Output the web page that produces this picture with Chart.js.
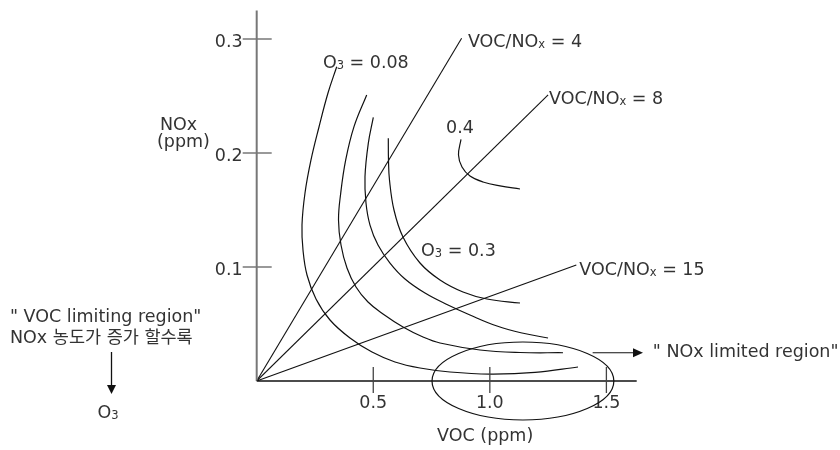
<!DOCTYPE html>
<html>
<head>
<meta charset="utf-8">
<script src="https://cdn.jsdelivr.net/npm/chart.js@4.4.1/dist/chart.umd.min.js"></script>
<style>
  html, body { margin: 0; padding: 0; background: #fff; }
  #wrap { width: 840px; height: 450px; }
</style>
</head>
<body>
<div id="wrap"><canvas id="chart" width="840" height="450"></canvas></div>
<script>
// 1. DATA
const xTicks = [0.5, 1.0, 1.5];
const xTickLabels = ['0.5', '1.0', '1.5'];
const yTicks = [0.1, 0.2, 0.3];
const yTickLabels = ['0.1', '0.2', '0.3'];
const xAxisMax = 1.63;   // VOC (ppm)
const yAxisMax = 0.325;  // NOx (ppm)

// VOC/NOx ratio lines: from origin to end point
const ratioLabels = ['4', '8', '15'];
const ratioVoc = [0.879, 1.25, 1.371];
const ratioNox = [0.3006, 0.251, 0.1018];

// O3 isopleths, [VOC, NOx]
const iso008 = [[0.3432, 0.2757], [0.3058, 0.2526], [0.2672, 0.2228], [0.2329, 0.1939], [0.2072, 0.1649],
  [0.1943, 0.1368], [0.1986, 0.1149], [0.2158, 0.0930], [0.2544, 0.0719], [0.3144, 0.0535],
  [0.4002, 0.0377], [0.4946, 0.0254], [0.5932, 0.0167], [0.7005, 0.0114], [0.8292, 0.0079],
  [1.0008, 0.0061], [1.1938, 0.0075], [1.3783, 0.0123]];
const isoB = [[0.4718, 0.2509], [0.4174, 0.2231], [0.3818, 0.1939], [0.3603, 0.1646], [0.3509, 0.1412],
  [0.3616, 0.1193], [0.3873, 0.0991], [0.4259, 0.0825], [0.4774, 0.0693], [0.5418, 0.0588],
  [0.6276, 0.0474], [0.7134, 0.0386], [0.7863, 0.0333], [0.9579, 0.0272], [1.1295, 0.0250],
  [1.3140, 0.0248]];
const isoC = [[0.5002, 0.2313], [0.4787, 0.2085], [0.4645, 0.1792], [0.4688, 0.1561], [0.4860, 0.1368],
  [0.5203, 0.1193], [0.5718, 0.1035], [0.6361, 0.0895], [0.7219, 0.0772], [0.8206, 0.0667],
  [0.9149, 0.0579], [1.0308, 0.0482], [1.1380, 0.0421], [1.2496, 0.0377]];
const iso03 = [[0.5645, 0.2129], [0.5653, 0.1939], [0.5696, 0.1763], [0.5889, 0.1500], [0.6275, 0.1263],
  [0.7005, 0.1035], [0.7863, 0.0886], [0.8849, 0.0781], [0.9879, 0.0719], [1.1294, 0.0684]];
const iso04 = [[0.8763, 0.2120], [0.8656, 0.1982], [0.8806, 0.1877], [0.9149, 0.1798], [0.9707, 0.1746],
  [1.0436, 0.1711], [1.1294, 0.1684]];

// "NOx limited region" ellipse (centre, radii in axis units)
const ellipseVoc = [1.142, 0.390];
const ellipseNox = [0.0, 0.0342];

// 2. STYLE
const FONT = '"DejaVu Sans", "Noto Sans CJK KR", sans-serif';
const FS = 17.5;
const SUB = 11.5;
const TXT = '#333';

function toPts(arr) { return arr.map(p => ({ x: p[0], y: p[1] })); }

function curveSet(arr) {
  return {
    data: toPts(arr), showLine: true, borderColor: '#111', borderWidth: 1.2,
    pointRadius: 0, tension: 0.4, fill: false
  };
}

const datasets = [iso008, isoB, isoC, iso03, iso04].map(curveSet);
ratioLabels.forEach((r, i) => {
  datasets.push({
    data: [{ x: 0, y: 0 }, { x: ratioVoc[i], y: ratioNox[i] }], showLine: true,
    borderColor: '#111', borderWidth: 1.1, pointRadius: 0, tension: 0, fill: false
  });
});

// text with small subscript parts: [text, isSub]
function drawParts(ctx, px, py, parts, align) {
  let w = 0;
  parts.forEach(p => { ctx.font = `${p[1] ? SUB : FS}px ${FONT}`; w += ctx.measureText(p[0]).width; });
  let cx = align === 'center' ? px - w / 2 : align === 'right' ? px - w : px;
  ctx.textAlign = 'left';
  ctx.textBaseline = 'alphabetic';
  parts.forEach(p => {
    ctx.font = `${p[1] ? SUB : FS}px ${FONT}`;
    ctx.fillText(p[0], cx, py + (p[1] ? 1 : 0));
    cx += ctx.measureText(p[0]).width;
  });
}

function seg(ctx, a, b, c, d) { ctx.beginPath(); ctx.moveTo(a, b); ctx.lineTo(c, d); ctx.stroke(); }

// 3. OVERLAY: axes, ticks, notes
const overlay = {
  id: 'overlay',
  afterDatasetsDraw(chart) {
    const { ctx, scales: { x, y } } = chart;
    const x0 = x.getPixelForValue(0), y0 = y.getPixelForValue(0);
    ctx.save();

    // axes
    ctx.strokeStyle = '#777'; ctx.lineWidth = 2;
    seg(ctx, x0, y0, x0, y.getPixelForValue(yAxisMax));
    ctx.strokeStyle = '#111'; ctx.lineWidth = 1.5;
    seg(ctx, x0, y0, x.getPixelForValue(xAxisMax), y0);

    // ticks + labels
    ctx.fillStyle = TXT;
    yTicks.forEach((v, i) => {
      const py = y.getPixelForValue(v);
      ctx.strokeStyle = '#777'; ctx.lineWidth = 1.5;
      seg(ctx, x0 - 14, py, x0 + 15, py);
      drawParts(ctx, x0 - 14, py + 7.5, [[yTickLabels[i], false]], 'right');
    });
    xTicks.forEach((v, i) => {
      const px = x.getPixelForValue(v);
      ctx.strokeStyle = '#444'; ctx.lineWidth = 1.3;
      seg(ctx, px, y0 - 14, px, y0 + 12);
      drawParts(ctx, px, y0 + 27, [[xTickLabels[i], false]], 'center');
    });

    // axis titles
    drawParts(ctx, x.getPixelForValue(0.98), y0 + 60, [['VOC (ppm)', false]], 'center');
    drawParts(ctx, 160, 130, [['NOx', false]], 'left');
    drawParts(ctx, 157, 147, [['(ppm)', false]], 'left');

    // isopleth and ratio labels
    const lab = (vx, vy, parts) => drawParts(ctx, x.getPixelForValue(vx), y.getPixelForValue(vy), parts, 'left');
    lab(0.284, 0.2746, [['O', false], ['3', true], [' = 0.08', false]]);
    lab(0.705, 0.1096, [['O', false], ['3', true], [' = 0.3', false]]);
    lab(0.812, 0.2175, [['0.4', false]]);
    lab(0.906, 0.293, [['VOC/NO', false], ['x', true], [' = 4', false]]);
    lab(1.254, 0.243, [['VOC/NO', false], ['x', true], [' = 8', false]]);
    lab(1.384, 0.093, [['VOC/NO', false], ['x', true], [' = 15', false]]);

    // ellipse
    const ecx = x.getPixelForValue(ellipseVoc[0]), ecy = y.getPixelForValue(ellipseNox[0]);
    const erx = x.getPixelForValue(ellipseVoc[0] + ellipseVoc[1]) - ecx;
    const ery = ecy - y.getPixelForValue(ellipseNox[0] + ellipseNox[1]);
    ctx.strokeStyle = '#111'; ctx.lineWidth = 1.2;
    ctx.beginPath(); ctx.ellipse(ecx, ecy, erx, ery, 0, 0, Math.PI * 2); ctx.stroke();

    // right arrow + note
    const ay = y.getPixelForValue(0.0248);
    const ax1 = x.getPixelForValue(1.441), ax2 = x.getPixelForValue(1.657);
    seg(ctx, ax1, ay, ax2 - 8, ay);
    ctx.fillStyle = '#111';
    ctx.beginPath(); ctx.moveTo(ax2, ay); ctx.lineTo(ax2 - 10, ay - 4.5); ctx.lineTo(ax2 - 10, ay + 4.5); ctx.closePath(); ctx.fill();
    ctx.fillStyle = TXT;
    lab(1.699, 0.021, [['" NOx limited region"', false]]);

    // left note + down arrow
    drawParts(ctx, 10, 322, [['" VOC limiting region"', false]], 'left');
    drawParts(ctx, 10, 343, [['NOx 농도가 증가 할수록', false]], 'left');
    ctx.strokeStyle = '#111'; ctx.lineWidth = 1.3;
    seg(ctx, 111.5, 352, 111.5, 386);
    ctx.fillStyle = '#111';
    ctx.beginPath(); ctx.moveTo(111.5, 394); ctx.lineTo(107, 385); ctx.lineTo(116, 385); ctx.closePath(); ctx.fill();
    ctx.fillStyle = TXT;
    drawParts(ctx, 108, 418, [['O', false], ['3', true]], 'center');

    ctx.restore();
  }
};

// 4. CHART
new Chart(document.getElementById('chart').getContext('2d'), {
  type: 'scatter',
  data: { datasets },
  options: {
    responsive: false, animation: false,
    layout: { padding: { left: 256.7, right: 203.3, top: 10.5, bottom: 69 } },
    plugins: { legend: { display: false }, tooltip: { enabled: false } },
    elements: { line: { capBezierPoints: false } },
    scales: {
      x: { type: 'linear', display: false, min: 0, max: xAxisMax },
      y: { type: 'linear', display: false, min: 0, max: yAxisMax }
    }
  },
  plugins: [overlay]
});
</script>
</body>
</html>
